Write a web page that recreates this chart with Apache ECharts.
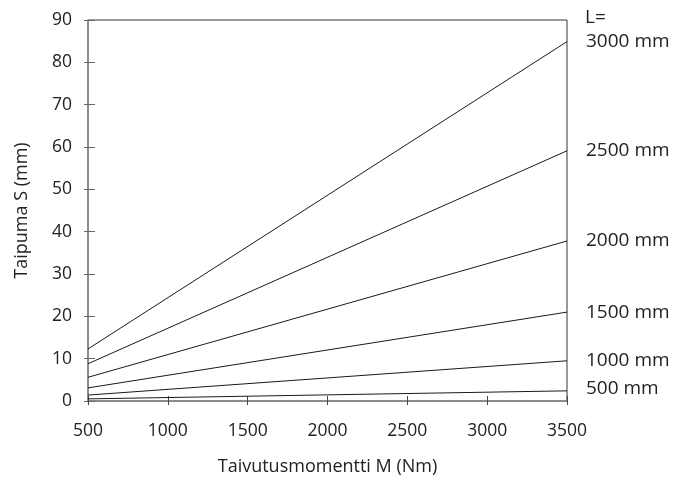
<!DOCTYPE html>
<html><head><meta charset="utf-8">
<script src="https://cdn.jsdelivr.net/npm/echarts@6/dist/echarts.min.js"></script>
<style>html,body{margin:0;padding:0;background:#fff}#c{width:686px;height:477px}</style>
</head><body><div id="c"></div>
<script>
const moments = [500, 3500];
const lengthLabels = ['3000 mm', '2500 mm', '2000 mm', '1500 mm', '1000 mm', '500 mm'];
const deflectionAt500 = [12.3, 8.8, 5.6, 3.1, 1.4, 0.5];
const deflectionAt3500 = [84.9, 59.1, 37.8, 21.0, 9.5, 2.4];
const xTicks = [500, 1000, 1500, 2000, 2500, 3000, 3500];
const yTicks = [0, 10, 20, 30, 40, 50, 60, 70, 80, 90];

const FONT = 'Open Sans';
const series = lengthLabels.map((name, i) => ({
  type: 'line', name, symbol: 'none', silent: true,
  data: [[moments[0], deflectionAt500[i]], [moments[1], deflectionAt3500[i]]],
  lineStyle: { color: '#1a1a1a', width: 1 },
  endLabel: { show: true, formatter: name, color: '#222', fontFamily: FONT, fontSize: 19, distance: 19,
    offset: name === '500 mm' ? [0, -2] : [0, 0] }
}));

const chart = echarts.init(document.getElementById('c'));
chart.setOption({
  animation: false,
  grid: { left: 88, right: 119, top: 20, bottom: 76, show: true, borderColor: '#333', borderWidth: 1,
    containLabel: false, outerBoundsMode: 'none' },
  xAxis: [
    { type: 'value', min: 500, max: 3500, interval: 500,
      name: 'Taivutusmomentti M (Nm)', nameLocation: 'middle', nameGap: 57,
      nameTextStyle: { color: '#222', fontFamily: FONT, fontSize: 18 },
      axisLine: { lineStyle: { color: '#888', width: 1.5 } },
      axisTick: { show: true, length: 4, lineStyle: { color: '#6d3050' } },
      axisLabel: { color: '#222', fontFamily: FONT, fontSize: 17.5, margin: 21, formatter: v => String(v) },
      splitLine: { show: false } },
    { type: 'value', min: 500, max: 3500, interval: 500, position: 'bottom',
      axisLine: { show: false }, axisLabel: { show: false },
      axisTick: { show: true, inside: true, length: 5, lineStyle: { color: '#6d3050' } },
      splitLine: { show: false } }
  ],
  yAxis: [
    { type: 'value', min: 0, max: 90, interval: 10,
      name: 'Taipuma S (mm)', nameLocation: 'middle', nameGap: 57,
      nameTextStyle: { color: '#222', fontFamily: FONT, fontSize: 18 },
      axisLine: { show: true, lineStyle: { color: '#888', width: 1.5 } },
      axisTick: { show: true, length: 4, lineStyle: { color: '#666' } },
      axisLabel: { color: '#222', fontFamily: FONT, fontSize: 17.5, margin: 16, formatter: v => String(v) },
      splitLine: { show: false } },
    { type: 'value', min: 0, max: 90, interval: 10, position: 'left',
      axisLine: { show: false }, axisLabel: { show: false },
      axisTick: { show: true, inside: true, length: 7, lineStyle: { color: '#666' } },
      splitLine: { show: false } }
  ],
  graphic: [{ type: 'text', left: 585, top: 8, style: { text: 'L=', fill: '#222', font: '19px "Open Sans"' } }],
  series
});
</script></body></html>
